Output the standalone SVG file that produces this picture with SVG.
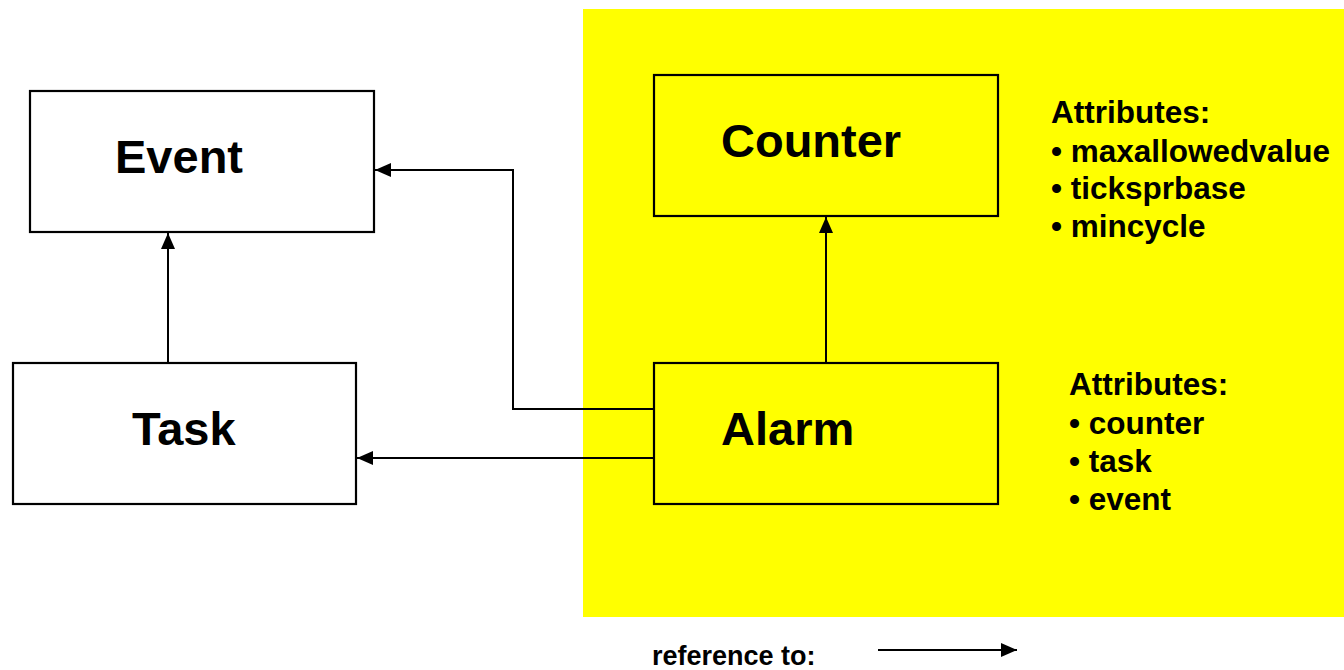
<svg xmlns="http://www.w3.org/2000/svg" width="1344" height="670" viewBox="0 0 1344 670">
<style>
.box{stroke:#000;stroke-width:2.2;}
.title{font-family:"Liberation Sans",Arial,sans-serif;font-weight:bold;font-size:47px;fill:#000;}
.attr{font-family:"Liberation Sans",Arial,sans-serif;font-weight:bold;font-size:31.5px;fill:#000;}
.legend{font-family:"Liberation Sans",Arial,sans-serif;font-weight:bold;font-size:27px;fill:#000;}
.conn{fill:none;stroke:#000;stroke-width:2;marker-end:url(#arr);}
</style>
<defs>
<marker id="arr" markerUnits="userSpaceOnUse" markerWidth="17" markerHeight="15" refX="16" refY="7" orient="auto">
<path d="M0,0 L16,7 L0,14 Z" fill="#000"/>
</marker>
</defs>
<rect x="0" y="0" width="1344" height="670" fill="#fff"/>
<rect id="region" x="583" y="9" width="761" height="608" fill="#ffff00"/>
<g id="event"><rect class="box" x="30" y="91" width="344" height="141" fill="#fff"/><text class="title" x="115" y="173">Event</text></g>
<g id="task"><rect class="box" x="13" y="363" width="343" height="141" fill="#fff"/><text class="title" x="132" y="445">Task</text></g>
<g id="counter"><rect class="box" x="654" y="75" width="344" height="141" fill="#ffff00"/><text class="title" x="721" y="157">Counter</text></g>
<g id="alarm"><rect class="box" x="654" y="363" width="344" height="141" fill="#ffff00"/><text class="title" x="721" y="445">Alarm</text></g>
<g id="counter-attrs">
<text class="attr" x="1051" y="123">Attributes:</text>
<text class="attr" x="1051" y="162">• maxallowedvalue</text>
<text class="attr" x="1051" y="199">• ticksprbase</text>
<text class="attr" x="1051" y="237">• mincycle</text>
</g>
<g id="alarm-attrs">
<text class="attr" x="1069" y="395">Attributes:</text>
<text class="attr" x="1069" y="434">• counter</text>
<text class="attr" x="1069" y="472">• task</text>
<text class="attr" x="1069" y="510">• event</text>
</g>
<g id="connectors">
<path class="conn" d="M168 362 V233"/>
<path class="conn" d="M653 409 H513 V170 H375"/>
<path class="conn" d="M653 458 H357"/>
<path class="conn" d="M826 362 V217"/>
</g>
<g id="legend">
<text class="legend" x="652" y="665">reference to:</text>
<path class="conn" d="M878 650 H1017"/>
</g>
</svg>
